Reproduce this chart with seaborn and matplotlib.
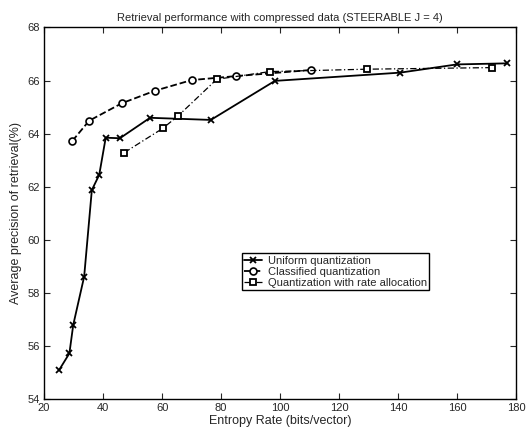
import numpy as np
import pandas as pd
import seaborn as sns
import matplotlib
matplotlib.use("Agg")
import matplotlib.pyplot as plt

# Values
uniform_rate = [25.1, 28.6, 29.9, 33.6, 36.2, 38.7, 40.9, 45.7, 55.9, 76.5, 98.2, 140.6, 159.8, 176.7]
uniform_prec = [55.10, 55.73, 56.80, 58.62, 61.88, 62.45, 63.85, 63.83, 64.60, 64.52, 65.99, 66.30, 66.61, 66.65]

classified_rate = [29.6, 35.3, 46.4, 57.6, 70.0, 85.0, 110.4]
classified_prec = [63.73, 64.49, 65.15, 65.62, 66.02, 66.17, 66.40]

alloc_rate = [47.2, 60.2, 65.5, 78.5, 96.5, 129.3, 171.8]
alloc_prec = [63.29, 64.20, 64.68, 66.05, 66.34, 66.43, 66.49]

labels = ["Uniform quantization", "Classified quantization", "Quantization with rate allocation"]

sns.set_style("ticks")
plt.rcParams['font.family'] = ['Liberation Sans', 'DejaVu Sans']

fig = plt.figure(figsize=(5.32, 4.33), dpi=100)
ax = fig.add_axes([0.0827, 0.0778, 0.8881, 0.8587])

sns.lineplot(x=uniform_rate, y=uniform_prec, ax=ax, color="black", linestyle="-",
             linewidth=1.3, marker="x", markersize=4, markeredgewidth=1.3,
             markeredgecolor="black", sort=False, label=labels[0])
sns.lineplot(x=classified_rate, y=classified_prec, ax=ax, color="black", linestyle="--",
             linewidth=1.3, marker="o", markersize=5, markerfacecolor="white",
             markeredgecolor="black", markeredgewidth=1.2, sort=False, label=labels[1])
sns.lineplot(x=alloc_rate, y=alloc_prec, ax=ax, color="black", linestyle=(0, (5, 2, 1, 2)),
             linewidth=0.9, marker="s", markersize=4.5, markerfacecolor="white",
             markeredgecolor="black", markeredgewidth=1.3, sort=False, label=labels[2])

ax.set_xlim(20, 180)
ax.set_ylim(54, 68)
ax.set_xticks(np.arange(20, 181, 20))
ax.set_yticks(np.arange(54, 69, 2))
ax.tick_params(direction="in", top=True, right=True, labelsize=8, length=4, width=0.8, pad=3)
for s in ax.spines.values():
    s.set_visible(True)
    s.set_linewidth(1.0)
    s.set_color("black")

ax.set_xlabel("Entropy Rate (bits/vector)", fontsize=9, labelpad=1)
ax.set_ylabel("Average precision of retrieval(%)", fontsize=9, labelpad=4)
ax.set_title("Retrieval performance with compressed data (STEERABLE J = 4)", fontsize=8, pad=5)

leg = ax.legend(loc="lower left", bbox_to_anchor=(0.419, 0.294), fontsize=8,
                handlelength=1.6, handletextpad=0.5, borderpad=0.2, labelspacing=0.1,
                fancybox=False, framealpha=1, edgecolor="black", borderaxespad=0)
leg.get_frame().set_linewidth(1.0)

fig.savefig("out.png", dpi=100)
